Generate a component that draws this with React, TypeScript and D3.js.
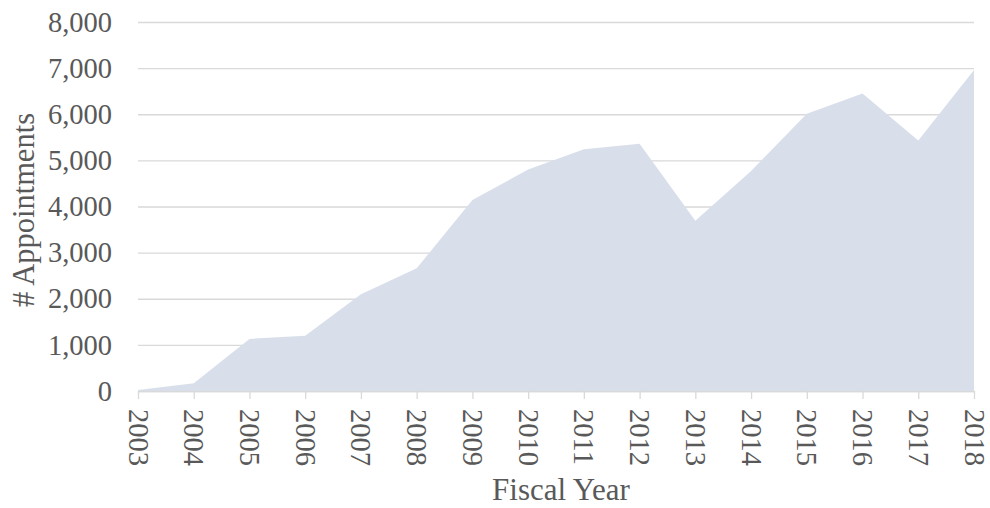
import { useEffect, useMemo, useRef } from "react";
import * as d3 from "d3";

const WIDTH = 990;
const HEIGHT = 508;
const MARGIN = { top: 22, right: 16, bottom: 117, left: 138 };

const YEARS = ["2003", "2004", "2005", "2006", "2007", "2008", "2009", "2010", "2011", "2012", "2013", "2014", "2015", "2016", "2017", "2018"];
const APPOINTMENTS = [20, 170, 1130, 1200, 2100, 2660, 4140, 4800, 5240, 5360, 3690, 4770, 6010, 6450, 5430, 6960];
const Y_TICKS = [0, 1000, 2000, 3000, 4000, 5000, 6000, 7000, 8000];

const FONT = "'Liberation Serif', 'Times New Roman', serif";
const TEXT = "#595959";
const GRID = "#d9d9d9";
const FILL = "#d9dfea";

export default function App() {
  const axesRef = useRef<SVGGElement>(null);
  const boundsWidth = WIDTH - MARGIN.left - MARGIN.right;
  const boundsHeight = HEIGHT - MARGIN.top - MARGIN.bottom;

  const xScale = useMemo(
    () => d3.scalePoint().domain(YEARS).range([0, boundsWidth]),
    [boundsWidth]
  );
  const yScale = useMemo(
    () => d3.scaleLinear().domain([0, 8000]).range([boundsHeight, 0]),
    [boundsHeight]
  );

  const areaPath = d3
    .area<number>()
    .x((_, i) => xScale(YEARS[i]) ?? 0)
    .y0(boundsHeight)
    .y1((d) => yScale(d))(APPOINTMENTS);

  useEffect(() => {
    const g = d3.select(axesRef.current);
    g.selectAll("*").remove();

    // y axis: labels + gridlines
    const yAxis = g
      .append("g")
      .call(
        d3
          .axisLeft(yScale)
          .tickValues(Y_TICKS)
          .tickSize(-boundsWidth)
          .tickPadding(26)
          .tickFormat(d3.format(","))
      );
    yAxis.select(".domain").remove();
    yAxis.selectAll(".tick line").attr("stroke", GRID).attr("stroke-width", 1.3);
    yAxis
      .selectAll(".tick text")
      .attr("fill", TEXT)
      .style("font-family", FONT)
      .style("font-size", "28.5px");

    // x axis
    const xAxis = g
      .append("g")
      .attr("transform", `translate(0,${boundsHeight})`)
      .call(d3.axisBottom(xScale).tickSize(8).tickSizeOuter(0));
    xAxis.select(".domain").attr("stroke", GRID).attr("stroke-width", 1.3);
    xAxis.selectAll(".tick line").attr("stroke", GRID).attr("stroke-width", 1.3);
    xAxis
      .selectAll(".tick text")
      .attr("fill", TEXT)
      .style("font-family", FONT)
      .style("font-size", "28.5px")
      .attr("text-anchor", "start")
      .attr("dy", "0.35em")
      .attr("y", 0)
      .attr("transform", "translate(0,18) rotate(90)");
  }, [xScale, yScale, boundsWidth, boundsHeight]);

  return (
    <svg width={WIDTH} height={HEIGHT} style={{ position: "absolute", left: 0, top: 0 }}>
      <g transform={`translate(${MARGIN.left},${MARGIN.top})`}>
        <g ref={axesRef} />
        <path d={areaPath ?? ""} fill={FILL} />
      </g>
      <text
        x={561}
        y={500}
        textAnchor="middle"
        fill={TEXT}
        style={{ fontFamily: FONT, fontSize: 31 }}
      >
        Fiscal Year
      </text>
      <text
        transform={`translate(34,210) rotate(-90)`}
        textAnchor="middle"
        fill={TEXT}
        style={{ fontFamily: FONT, fontSize: 30.5 }}
      >
        # Appointments
      </text>
    </svg>
  );
}
